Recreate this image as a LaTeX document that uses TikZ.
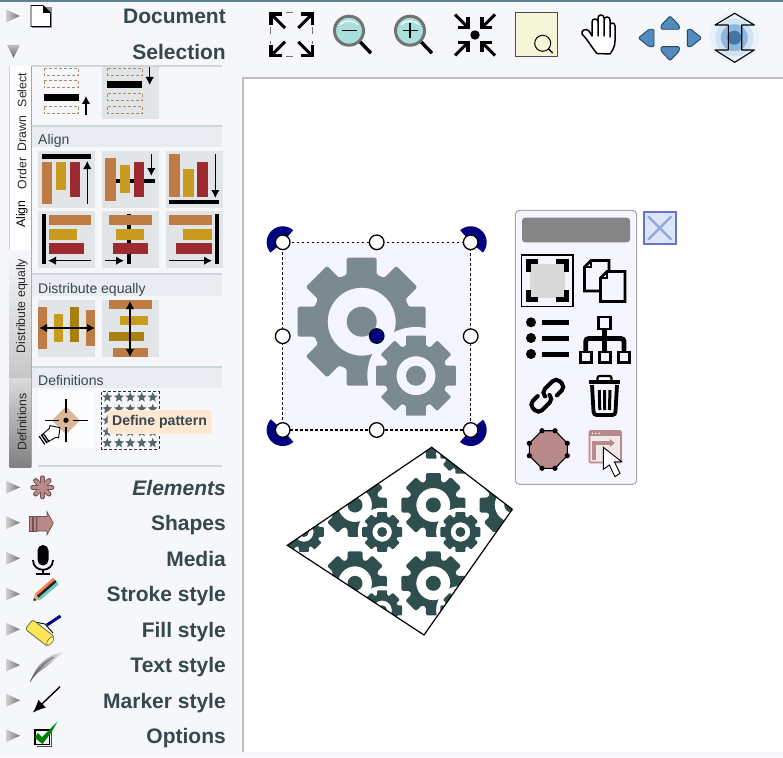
\documentclass[tikz,border=0pt]{standalone}
\usepackage{fontspec}
\setmainfont{Liberation Sans}
\usetikzlibrary{arrows.meta}
\definecolor{panelbg}{HTML}{F5F7FA}
\definecolor{topbar}{HTML}{5F7F92}
\definecolor{edgegray}{HTML}{BEBEBE}
\definecolor{inkslate}{HTML}{37474F}
\definecolor{stripbg}{HTML}{E9EDF1}
\definecolor{stripline}{HTML}{CDD6DC}
\definecolor{btnbg}{HTML}{E2E5E8}
\definecolor{barorange}{HTML}{BE7B42}
\definecolor{baryellow}{HTML}{C89A20}
\definecolor{bardark}{HTML}{A87F10}
\definecolor{barred}{HTML}{9C2A2E}
\definecolor{dashtan}{HTML}{B08A60}
\definecolor{gearsel}{HTML}{7B8A91}
\definecolor{gearpat}{HTML}{2F4F4F}
\definecolor{selbg}{HTML}{F4F5FE}
\definecolor{rose}{HTML}{B88A8A}
\definecolor{rosedark}{HTML}{6F4F4F}
\definecolor{lensfill}{HTML}{AAE0DC}
\definecolor{padblue}{HTML}{5B9BD5}
\definecolor{starcol}{HTML}{56646C}
\definecolor{closefill}{HTML}{DCE6F8}
\definecolor{closeedge}{HTML}{6474CC}
\definecolor{closex}{HTML}{8FA5E5}
\definecolor{beigebox}{HTML}{F5F5D8}
\tikzset{
  header/.style={anchor=base east,font=\fontsize{21}{21}\selectfont\bfseries,text=inkslate,inner sep=0pt},
  tabtext/.style={rotate=90,font=\fontsize{12.3}{12.3}\selectfont,text=black!85,inner sep=0pt},
  striptext/.style={anchor=base west,font=\fontsize{14}{14}\selectfont,text=inkslate,inner sep=0pt},
  sidetri/.style={left color=black!18,right color=black!55,draw=none},
  thickarrow/.style={line width=1.2pt,-{Latex[length=8pt,width=8.5pt]}},
  bothtips/.style={line width=1.2pt,{Latex[length=8pt,width=8.5pt]}-{Latex[length=8pt,width=8.5pt]}},
  dashbox/.style={draw=dashtan,line width=1pt,dash pattern=on 3pt off 2pt,fill=none},
  handle/.style={draw=black,line width=1.3pt,fill=white},
}
\newcommand{\biggear}[1]{\fill[#1,rounded corners=1.5pt,even odd rule] (-17.7:49.3) -- (-13.2:65.7) -- (13.2:65.7) -- (17.7:49.3)
  \foreach \a in {45,90,...,315}{ -- (\a-17.7:49.3) -- (\a-13.2:65.7) -- (\a+13.2:65.7) -- (\a+17.7:49.3) } -- cycle
  (0,0) circle[radius=34] (0,0) circle[radius=15];}
\newcommand{\smallgear}[1]{\fill[#1,rounded corners=1pt,even odd rule] (-18.4:31.6) -- (-14:41.2) -- (14:41.2) -- (18.4:31.6)
  \foreach \a in {45,90,...,315}{ -- (\a-18.4:31.6) -- (\a-14:41.2) -- (\a+14:41.2) -- (\a+18.4:31.6) } -- cycle
  (0,0) circle[radius=19.5] (0,0) circle[radius=10];}
\newcommand{\gearpair}[5]{\begin{scope}[shift={(#1,#2)},scale=#3]
  \biggear{#4}
  \fill[#5] (54.3,54) circle[radius=48.7];
  \begin{scope}[shift={(54.3,54)}]\smallgear{#4}\end{scope}
\end{scope}}
\newcommand{\pie}[4]{\fill[blue!50!black] (#1,#2) -- plot[domain=#3:#4,samples=24] ({#1+16*cos(\x)},{#2+16*sin(\x)}) -- cycle;}
\newcommand{\outarrow}[4]{\draw[line width=3.2pt] (#1+#3*11,#2) -- (#1,#2) -- (#1,#2+#4*11); \draw[line width=3pt] (#1,#2) -- (#1+#3*14,#2+#4*14);}
\newcommand{\inarrow}[4]{\draw[line width=3.2pt] (#1-#3*10,#2) -- (#1,#2) -- (#1,#2-#4*10); \draw[line width=3pt] (#1,#2) -- (#1-#3*13,#2-#4*13);}
\newcommand{\patstar}[2]{\fill[starcol,shift={(#1,#2)}] (-90:5.2)--(-54:2.3)--(-18:5.2)--(18:2.3)--(54:5.2)--(90:2.3)--(126:5.2)--(162:2.3)--(198:5.2)--(234:2.3)--cycle;}
\newcommand{\lens}[2]{\draw[line width=3.4pt] (#1+10.5,#2+10.5) -- (#1+22,#2+22.5);
  \filldraw[fill=lensfill,draw=black!55,line width=3pt] (#1,#2) circle[radius=14.5];
  \draw[white,line width=1.2pt] (#1-9,#2-6) .. controls (#1-4,#2-11) and (#1+4,#2-11) .. (#1+9,#2-6);}
\begin{document}
\begin{tikzpicture}[x=1pt,y=-1pt]
\useasboundingbox (0,0) rectangle (783,757);
\fill[panelbg] (0,0) rectangle (783,757);
\fill[topbar] (0,0) rectangle (783,2);
% canvas
\fill[white] (243,78) rectangle (783,752);
\fill[edgegray] (242,77) rectangle (783,79);
\fill[edgegray] (242,77) rectangle (244,752);
% ---- side headers
\node[header] (hDocument) at (226,23.2) {Document};
\node[header] (hSelection) at (226,59.3) {Selection};
\node[header,font=\fontsize{21}{21}\selectfont\bfseries\itshape] (hElements) at (226,495) {Elements};
\node[header] (hShapes) at (226,530.5) {Shapes};
\node[header] (hMedia) at (226,566) {Media};
\node[header] (hStroke) at (226,601.5) {Stroke style};
\node[header] (hFill) at (226,637) {Fill style};
\node[header] (hText) at (226,672.5) {Text style};
\node[header] (hMarker) at (226,708) {Marker style};
\node[header] (hOptions) at (226,743.5) {Options};
\foreach \yy in {16,487.3,522.7,558.3,594,629.3,665,700.3,735.7}{
  \shade[sidetri] (6,\yy-6.5) -- (20,\yy) -- (6,\yy+6.5) -- cycle;}
\shade[top color=black!25,bottom color=black!60] (7,45) -- (20,45) -- (13.5,58) -- cycle;
% document icon
\fill[black!45] (32,7) rectangle (52,28);
\filldraw[fill=white,draw=black,line width=0.9pt] (31,5.5) -- (43,5.5) -- (50.5,13) -- (50.5,26.5) -- (31,26.5) -- cycle;
\fill (43,5.5) -- (50.5,13) -- (43,13) -- cycle;
% ---- tabs
\fill[white] (10,65.7) rectangle (31,250);
\draw[black!35,line width=1pt] (31,66) -- (31,467);
\draw[black!18,line width=0.6pt] (9.7,66) -- (9.7,250);
\shade[top color=panelbg,bottom color=black!22] (9.5,250) rectangle (31,378);
\shade[top color=black!14,bottom color=black!50] (9.5,378) rectangle (31,467);
\node[tabtext] (tSelect) at (22,90) {Select};
\node[tabtext] (tDrawn) at (22,133.7) {Drawn};
\node[tabtext] (tOrder) at (22,173.3) {Order};
\node[tabtext,text=black] (tAlign) at (22,214) {Align};
\node[tabtext] (tDist) at (22,306) {Distribute equally};
\node[tabtext] (tDefs) at (22,422) {Definitions};
% ---- strips
\fill[stripline] (32,65.5) rectangle (222,67);
\foreach \ya/\yb in {125/147,273/296,366/388}{
  \fill[stripbg] (32,\ya) rectangle (222,\yb);
  \fill[stripline] (32,\ya) rectangle (222,\ya+2);}
\fill[stripline] (38,465) rectangle (222,466.5);
\node[striptext] (sAlign) at (38,144) {Align};
\node[striptext] (sDist) at (38,293) {Distribute equally};
\node[striptext] (sDefs) at (38,385) {Definitions};
% ---- order row
\fill[btnbg] (102,67) rectangle (159,118.5);
\foreach \yy in {68.5,81,106.7}{\draw[dashbox] (44,\yy) rectangle (78.3,\yy+7);}
\fill[black] (43.5,93.7) rectangle (78.5,101);
\draw[thickarrow] (86,115) -- (86,96);
\foreach \yy in {68.5,93.7,106.7}{\draw[dashbox] (107.5,\yy) rectangle (142,\yy+7);}
\fill[black] (107,81) rectangle (142.3,88.3);
\draw[thickarrow] (149.7,67) -- (149.7,85);
% ---- align buttons
\foreach \xx in {38,102,166}{\foreach \yy in {151,211}{\fill[btnbg] (\xx,\yy) rectangle (\xx+57,\yy+57);}}
\fill (41.7,154.3) rectangle (91,158.7);
\fill[barorange] (41.7,161.7) rectangle (52.3,204);
\fill[baryellow] (55.7,161.7) rectangle (66.3,190);
\fill[barred] (70,161.7) rectangle (80.3,196.7);
\draw[thickarrow] (87.3,204) -- (87.3,161);
\fill (105.3,179.3) rectangle (155,183.3);
\fill[barorange] (105.3,158) rectangle (116,200.7);
\fill[baryellow] (119.7,165) rectangle (130,193.3);
\fill[barred] (133.7,161.7) rectangle (144.3,196.7);
\draw[thickarrow] (151.3,154) -- (151.3,176);
\fill[barorange] (169,154.3) rectangle (179.7,197);
\fill[baryellow] (183.3,168.7) rectangle (193.7,197);
\fill[barred] (197.3,161.7) rectangle (208,197);
\fill (169,200.3) rectangle (219,204.3);
\draw[thickarrow] (215.3,154.3) -- (215.3,198);
\fill (41.7,214.3) rectangle (45.7,264);
\fill[barorange] (48.7,214.7) rectangle (91,225.3);
\fill[baryellow] (48.7,229) rectangle (77,239.7);
\fill[barred] (48.7,243) rectangle (84,253.5);
\draw[thickarrow] (91,260.7) -- (48,260.7);
\fill (126.7,214) rectangle (130.7,264);
\fill[barorange] (109,214.7) rectangle (151.7,225.3);
\fill[baryellow] (116,229) rectangle (144.3,239.7);
\fill[barred] (112.7,243) rectangle (148,253.5);
\draw[thickarrow] (105,260.7) -- (124,260.7);
\fill (215.3,214) rectangle (219.3,264);
\fill[barorange] (169,214.7) rectangle (211.7,225.3);
\fill[baryellow] (183.3,229) rectangle (211.7,239.7);
\fill[barred] (176.3,243) rectangle (211.7,253.5);
\draw[thickarrow] (169,260.7) -- (212,260.7);
% ---- distribute buttons
\fill[btnbg] (38,300) rectangle (95,357);
\fill[btnbg] (102,300) rectangle (159,357);
\fill[barorange] (38,307) rectangle (46.7,349.3);
\fill[baryellow] (54,314) rectangle (63,342.3);
\fill[bardark] (70,306.7) rectangle (79,342.3);
\fill[barorange] (86,310.3) rectangle (95,345.7);
\draw[bothtips] (39,328) -- (95,328);
\fill[barorange] (109,300) rectangle (151.7,309);
\fill[baryellow] (119.7,315.7) rectangle (148,324.7);
\fill[bardark] (109,331.7) rectangle (144.3,340.7);
\fill[barorange] (112.7,347.7) rectangle (148,356.7);
\draw[bothtips] (130,301) -- (130,357);
% ---- definitions
\fill[white!60!panelbg] (38,391) rectangle (95,448);
\fill[barorange!55!white] (66,406.3) -- (80,420.3) -- (66,434.3) -- (52,420.3) -- cycle;
\draw[line width=1.1pt] (45,420.3) -- (59.3,420.3) (72.7,420.3) -- (87.7,420.3) (66,399) -- (66,413.3) (66,427.3) -- (66,441.7);
\fill (66,420.3) circle[radius=2.6];
\begin{scope}[shift={(51,434)},rotate=35]
  \filldraw[fill=white,draw=black,line width=0.9pt] (-8,-4.5) -- (2,-5.5) -- (4,-7.5) -- (11,0) -- (4,7.5) -- (2,5.5) -- (-8,4.5) -- cycle;
  \foreach \xx in {-11,-8.5,-6}{\draw[line width=1.2pt] (\xx,-5) -- (\xx,5);}
\end{scope}
\draw[black!80,line width=1pt,dash pattern=on 3pt off 2pt] (101.7,391.7) rectangle (159,449);
\foreach \xx in {107.3,119,130.3,141.7,152.7}{\foreach \yy in {397.3,409,420.3,432,443}{\patstar{\xx}{\yy}}}
\node[fill=orange!18!white,rounded corners=3pt,minimum width=104pt,minimum height=24pt,inner sep=0pt,text=inkslate,font=\fontsize{14.1}{14.1}\selectfont\bfseries] (tip) at (159.5,422) {Define pattern};
% ---- elements icon
\foreach \a in {0,45,...,315}{\draw[rosedark,line width=5pt,line cap=round] (42.3,487.3) -- +(\a:9.5);}
\foreach \a in {0,45,...,315}{\draw[rose,line width=3.4pt,line cap=round] (42.3,487.3) -- +(\a:9.5);}
% shapes icon
\filldraw[fill=rose,draw=rosedark,line width=0.7pt] (37,516.5) -- (47,516.5) -- (47,511.7) -- (53.3,523.2) -- (47,534.7) -- (47,531) -- (37,531) -- cycle;
\filldraw[fill=rose,draw=rosedark,line width=0.7pt] (29.5,516.5) rectangle (32,531);
\filldraw[fill=rose,draw=rosedark,line width=0.7pt] (33.5,516.5) rectangle (36,531);
% media icon
\fill[rounded corners=5.4pt] (37.5,545) rectangle (48.5,565.5);
\draw[line width=1.8pt] (33,560) .. controls (33,573) and (53,573) .. (53,560);
\draw[line width=1.6pt] (43,569) -- (43,574) (36,574) -- (50,574);
% stroke icon
\begin{scope}[shift={(33.3,600.7)},rotate=41]
  \fill[barorange!60!white] (0,0) -- (6,-4.2) -- (6,4.2) -- cycle;
  \fill[black!85] (0,0) -- (2.5,-1.8) -- (2.5,1.8) -- cycle;
  \fill[red!45!orange!70!white] (6,-4.2) rectangle (30,-1.4);
  \fill[black!85] (6,-1.4) rectangle (30,1.4);
  \fill[cyan!50!green!60!white] (6,1.4) rectangle (30,4.2);
\end{scope}
% fill icon
\draw[black,line width=0.9pt] (35,622) -- (45,624) -- (53,633);
\draw[blue!50!black,line width=3pt] (47,625) -- (60.5,616);
\begin{scope}[shift={(40,633)},rotate=-38]
  \filldraw[fill=yellow!75!orange!65!white,draw=black!60!yellow,line width=0.9pt,rounded corners=2.5pt] (-14,-6) rectangle (14,6);
  \filldraw[fill=yellow!50!white,draw=black!60!yellow,line width=0.7pt] (13,0) ellipse[x radius=2.4,y radius=5.2];
\end{scope}
% text icon
\shade[left color=black!55,right color=black!6] (30,682) .. controls (36,666) and (46,654) .. (65,652.3) .. controls (56,656) and (52,663) .. (46,667) .. controls (42,670) and (37,672) .. (30,682) -- cycle;
\draw[black!70,line width=0.5pt] (30,682) .. controls (36,672) and (44,662) .. (54,657);
% marker icon
\draw[line width=1.4pt,-{Latex[length=13pt,width=11pt]}] (60,686.7) -- (32.7,712.7);
% options icon
\draw[line width=1.4pt] (34.8,729.8) rectangle (49.5,744.5);
\draw[black!70,line width=1pt] (51,732) -- (51,746) -- (37,746);
\fill[green!50!black] (34.5,737.5) -- (38,733) -- (42,737) -- (57.5,721.5) -- (51,733) -- (42.5,744) -- cycle;
% ---- toolbar
\draw[black!55,line width=1pt,dash pattern=on 7pt off 7pt] (270.5,27) -- (270.5,44) (312.7,27) -- (312.7,44) (286,13) -- (299,13) (286,56.2) -- (299,56.2);
\outarrow{271}{14}{1}{1}
\outarrow{312.3}{14}{-1}{1}
\outarrow{271}{55.7}{1}{-1}
\outarrow{312.3}{55.7}{-1}{-1}
\lens{349}{30.7}
\draw[line width=1.3pt] (341.7,30.7) -- (356.7,30.7);
\lens{410}{30.7}
\draw[line width=1.3pt] (402.7,30.7) -- (417.7,30.7) (410,23.5) -- (410,38);
\inarrow{468}{27.5}{1}{1}
\inarrow{482}{27.5}{-1}{1}
\inarrow{468}{42.5}{1}{-1}
\inarrow{482}{42.5}{-1}{-1}
\fill (475,35) circle[radius=4.7];
\filldraw[fill=beigebox,draw=black!70,line width=1pt] (515,13) rectangle (557.7,57);
\draw[line width=1pt] (542.7,43.3) circle[radius=8];
\draw[line width=1.4pt] (548.5,49) -- (552.5,53);
\filldraw[fill=white,draw=black,line width=1.5pt,line join=round] (597,53.5) .. controls (592,48) and (588,40) .. (582,34) .. controls (581,30) and (586,28) .. (589,31) -- (592,36) -- (592,22) .. controls (592,18) and (598,18) .. (598,22) -- (598,36) -- (598,18) .. controls (598,14) and (604,14) .. (604,18) -- (604,36) -- (604,20) .. controls (604,16) and (610,16) .. (610,20) -- (610,37) -- (610,26) .. controls (610,22) and (615,22) .. (615,26) -- (615,41) .. controls (615,47) and (612,51) .. (610,54) -- cycle;
% pan pad
\foreach \p in {{(661,25.5)--(670,16)--(679.3,25.5)--(679.3,29.3)--(661,29.3)},{(661,51)--(670,60.7)--(679.3,51)--(679.3,46.7)--(661,46.7)},{(654,29.3)--(654,46.7)--(649,46.7)--(638.3,38)--(649,29.3)},{(687.3,29.3)--(687.3,46.7)--(691,46.7)--(701.7,38)--(691,29.3)}}{
  \filldraw[fill=padblue!90!black,draw=padblue!45!black,line width=0.9pt,rounded corners=1.2pt] \p -- cycle;}
% resize icon
\fill[padblue!12!white] (734.3,37.7) circle[radius=25];
\fill[padblue!28!white] (734.3,37.7) circle[radius=19];
\fill[padblue!70!white] (734.3,37.7) circle[radius=13.5];
\fill[padblue!75!black] (734.3,37.7) circle[radius=7];
\draw[line width=1.1pt,line join=round] (728.3,25) -- (715,25) -- (734.7,13.3) -- (754.3,25) -- (741.7,25) -- (741.7,50) -- (754.3,50) -- (734.7,62.3) -- (715,50) -- (728.3,50) -- cycle;
% ---- selected element
\fill[selbg] (282.7,242.3) rectangle (470.7,430);
\pie{282.7}{242.3}{140}{311}
\pie{470.7}{242.3}{229}{400}
\pie{282.7}{430}{48}{222}
\pie{470.7}{430}{-40}{132}
\gearpair{361.7}{321.7}{1}{gearsel}{selbg}
\draw[black,line width=1.3pt,dash pattern=on 2.6pt off 2.4pt] (282.7,242.3) rectangle (470.7,430);
\foreach \hx/\hy in {282.7/242.3,376.7/242.3,470.7/242.3,282.7/336.2,470.7/336.2,282.7/430,376.7/430,470.7/430}{
  \draw[handle] (\hx,\hy) circle[radius=7.3];}
\filldraw[fill=blue!50!black,draw=black,line width=1.1pt] (376.7,336) circle[radius=7.3];
% ---- patterned quadrilateral
\begin{scope}
  \clip (431.7,447.3) -- (512.3,509.3) -- (424,635) -- (287.3,545.3) -- cycle;
  \foreach \gx in {276.7,355,433.3,511.7}{\foreach \gy in {426.7,505,583.3}{
    \gearpair{\gx}{\gy}{0.5}{gearpat}{white}}}
\end{scope}
\draw[black,line width=1.2pt,line join=miter] (431.7,447.3) -- (512.3,509.3) -- (424,635) -- (287.3,545.3) -- cycle;
% ---- context menu
\filldraw[fill=selbg,draw=black!35,line width=1pt,rounded corners=4pt] (515.3,210.3) rectangle (636.7,484.3);
\fill[black!48,rounded corners=3pt] (522,217.7) rectangle (630,242.3);
\filldraw[fill=closefill,draw=closeedge,line width=2pt] (643.7,212) rectangle (675.7,244);
\draw[closex,line width=2.2pt] (648,216.3) -- (671.4,239.7) (671.4,216.3) -- (648,239.7);
% select-all
\draw[line width=1.4pt] (521.5,255) rectangle (573,306.5);
\fill[black!15] (530,264) rectangle (565,298.3);
\draw[line width=5pt] (528.2,271.7) -- (528.2,261.8) -- (538.3,261.8) (555.7,261.8) -- (566.5,261.8) -- (566.5,271.7) (528.2,290) -- (528.2,299.8) -- (538.3,299.8) (555.7,299.8) -- (566.5,299.8) -- (566.5,290);
% copy
\begin{scope}[line width=2.6pt,line join=miter]
  \filldraw[fill=selbg] (591,260.5) -- (609,260.5) -- (609,291) -- (584.5,291) -- (584.5,267) -- cycle;
  \draw (591,260.5) -- (591,267) -- (584.5,267);
  \filldraw[fill=selbg] (607,271.5) -- (625,271.5) -- (625,301.5) -- (600.5,301.5) -- (600.5,278) -- cycle;
  \draw (607,271.5) -- (607,278) -- (600.5,278);
\end{scope}
% list
\foreach \yy in {322.3,338,354}{\fill (531,\yy) circle[radius=5]; \fill (542.3,\yy-2.5) rectangle (569,\yy+2.5);}
% sitemap
\begin{scope}[line width=2.6pt]
  \draw[line width=4.8pt] (604.5,329) -- (604.5,352);
  \draw[line width=4.8pt,rounded corners=3pt] (585.7,352) -- (585.7,338.5) -- (624,338.5) -- (624,352);
  \draw (598.7,317) rectangle (610.5,329);
  \draw (580.3,352) rectangle (591.3,362.7);
  \draw (599.2,352) rectangle (610.2,362.7);
  \draw (618.4,352) rectangle (629.4,362.7);
\end{scope}
% link
\begin{scope}[shift={(547.3,395.7)},rotate=45,line width=4pt,line cap=round]
  \draw[rounded corners=5pt] (-7,-6.5) -- (-19,-6.5) -- (-19,6.5) -- (2,6.5) -- (2,1);
  \draw[rounded corners=5pt] (7,6.5) -- (19,6.5) -- (19,-6.5) -- (-2,-6.5) -- (-2,-1);
\end{scope}
% trash
\draw[line width=4.2pt] (589,381.7) -- (620,381.7);
\draw[line width=2.2pt,rounded corners=2pt] (597.5,381) -- (597.5,376) -- (611.5,376) -- (611.5,381);
\draw[line width=3.8pt,rounded corners=3pt] (592,385) -- (593.7,415) -- (615.3,415) -- (617,385);
\draw[line width=3pt] (599.3,390) -- (599.8,410) (604.6,390) -- (604.6,410) (610,390) -- (609.4,410);
% octagon
\filldraw[fill=rose,draw=black,line width=1.1pt] (542,430.7) -- (555,430.7) -- (567.3,443.3) -- (567.3,455.7) -- (555,468.3) -- (542,468.3) -- (529.3,455.7) -- (529.3,443.3) -- cycle;
\foreach \dx/\dy in {542/430.7,555/430.7,567.3/443.3,567.3/455.7,555/468.3,542/468.3,529.3/455.7,529.3/443.3}{\fill (\dx,\dy) circle[radius=2.6];}
% window + cursor
\filldraw[fill=rose!20!white,draw=rose,line width=1.6pt,rounded corners=1pt] (589.5,431) rectangle (621,462.5);
\fill[rose] (589,430.7) rectangle (621.3,436);
\foreach \xx in {592.5,595.7,599}{\fill[white] (\xx,433.3) circle[radius=0.8];}
\draw[rose,line width=3.4pt,-{Latex[length=5pt,width=9pt]}] (594,459.5) -- (594,443) -- (615,443);
\filldraw[fill=white,draw=black,line width=0.9pt,line join=miter] (603.3,447.3) -- (603.3,469.3) -- (609.3,465) -- (615,476.7) -- (620,473.3) -- (614.3,461.7) -- (621.7,461.7) -- cycle;
\end{tikzpicture}
\end{document}
